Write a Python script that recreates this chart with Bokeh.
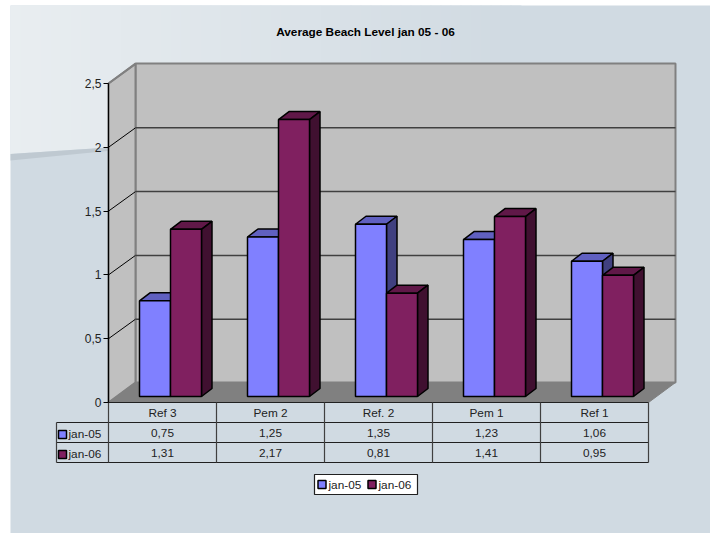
from bokeh.plotting import figure
from bokeh.models import Range1d, FixedTicker
from bokeh.core.properties import value
from bokeh.embed import file_html
from bokeh.resources import INLINE

categories = ["Ref 3", "Pem 2", "Ref. 2", "Pem 1", "Ref 1"]
jan05 = [0.75, 1.25, 1.35, 1.23, 1.06]
jan06 = [1.31, 2.17, 0.81, 1.41, 0.95]
series_names = ["jan-05", "jan-06"]
labels05 = ["0,75", "1,25", "1,35", "1,23", "1,06"]
labels06 = ["1,31", "2,17", "0,81", "1,41", "0,95"]
y_ticks = [0, 0.5, 1, 1.5, 2, 2.5]
y_tick_labels = ["0", "0,5", "1", "1,5", "2", "2,5"]
title = "Average Beach Level jan 05 - 06"

W, H = 710, 533
X0, Y0, CW, UNIT = 108, 402, 108, 127.6
FONT = value("Liberation Sans")

def X(px): return (px - X0) / CW
def Y(py): return (Y0 - py) / UNIT

p = figure(width=W, height=H, output_backend="svg", toolbar_location=None,
           x_axis_type=None, min_border=0,
           x_range=Range1d(X(0), X(W)), y_range=Range1d(Y(H), Y(0)))
p.styles = {"position": "absolute", "left": "0px", "top": "0px"}
p.grid.visible = False
p.outline_line_color = None
p.background_fill_color = "white"
p.border_fill_color = "white"

# ---- slide background
p.patch([X(10), X(W), X(W), X(10)], [Y(5), Y(5), Y(H), Y(H)], fill_color="#d0dae2", line_color=None)
c0, c1 = (233, 238, 241), (208, 218, 226)
xs, ys, cs = [], [], []
for a in range(10, 520, 10):
    b = a + 11
    t = min(1, (a - 10) / 500)
    col = tuple(int(c0[i] + (c1[i] - c0[i]) * t) for i in range(3))
    bot = lambda x: 153.5 - (x - 10) * 6.5 / 98
    xs.append([X(a), X(b), X(b), X(a)])
    ys.append([Y(5), Y(5), Y(bot(b)), Y(bot(a))])
    cs.append("#%02x%02x%02x" % col)
p.patches(xs, ys, fill_color=cs, line_color=None)
p.patch([X(10), X(112), X(112), X(10)], [Y(153.5), Y(146.8), Y(150), Y(160)],
        fill_color="#bfc9d1", line_color=None)

# ---- 3D box: walls and floor
BX, RX = 135, 648
wall = "#c0c0c0"; edge = "#808080"
p.patch([X(BX), X(RX + 27), X(RX + 27), X(BX)], [Y(63), Y(63), Y(382), Y(382)],
        fill_color=wall, line_color=edge, line_width=2)
p.patch([X(108), X(BX), X(BX), X(108)], [Y(83), Y(63), Y(382), Y(402)],
        fill_color=wall, line_color=edge, line_width=2)
p.patch([X(108), X(BX), X(RX + 27), X(RX)], [Y(402), Y(382), Y(382), Y(402)],
        fill_color="#808080", line_color="#808080", line_width=1)
back_dx, back_dy = X(BX), 19.5 / UNIT
for t in y_ticks[1:-1]:
    p.line([0, back_dx], [t, t + back_dy], line_color="#000000", line_width=1)
    p.line([back_dx, X(RX + 27)], [t + back_dy, t + back_dy], line_color="#404040", line_width=1.5)
p.line([0, back_dx], [2.5, 2.5 + back_dy], line_color=edge, line_width=2)

# ---- bars
bar_w = 31 / CW
bar_dx, bar_dy = 10.5 / CW, 8 / UNIT
base = Y(396)
styles = [("#8080ff", "#6060c0", "#404080"), ("#802060", "#601848", "#401030")]
for s, vals in enumerate([jan05, jan06]):
    front, top, side = styles[s]
    x0 = [i + (31 / CW) + s * bar_w for i in range(len(vals))]
    x1 = [x + bar_w for x in x0]
    tv = [base + v for v in vals]
    p.patches([[a, a + bar_dx, b + bar_dx, b] for a, b in zip(x0, x1)],
              [[t, t + bar_dy, t + bar_dy, t] for t in tv],
              fill_color=top, line_color="black", line_width=1.5)
    p.patches([[b, b + bar_dx, b + bar_dx, b] for b in x1],
              [[t, t + bar_dy, base + bar_dy, base] for t in tv],
              fill_color=side, line_color="black", line_width=1.5)
    p.quad(left=x0, right=x1, bottom=[base] * len(vals), top=tv,
           fill_color=front, line_color="black", line_width=1.5)

# ---- data table
rows = [Y(402), Y(422), Y(442), Y(462)]
n = len(categories)
p.line([0, n], [rows[0]] * 2, line_color="#202020", line_width=1.2)
p.line([X(56), n], [rows[1]] * 2, line_color="#202020", line_width=1.2)
p.line([X(56), n], [rows[2]] * 2, line_color="#202020", line_width=1.2)
p.line([X(56), n], [rows[3]] * 2, line_color="#202020", line_width=1.2)
p.line([X(56), X(56)], [rows[1], rows[3]], line_color="#404040", line_width=1.2)
for i in range(n + 1):
    p.line([i, i], [rows[0], rows[3]], line_color="#404040", line_width=1.2)

tx = [i + 0.5 for i in range(n)]
txt = dict(text_font=FONT, text_font_size="11.8px", text_color="#222222",
           text_align="center", text_baseline="middle")
p.text(tx, [Y(412)] * n, text=categories, **txt)
p.text(tx, [Y(432.5)] * n, text=labels05, **txt)
p.text(tx, [Y(452.5)] * n, text=labels06, **txt)

left = dict(txt, text_align="left")
cols = [styles[0][0], styles[1][0]]
p.quad(left=[X(58)] * 2, right=[X(66)] * 2, top=[Y(430), Y(450)], bottom=[Y(438), Y(458)],
       fill_color=cols, line_color="black", line_width=1.5)
p.text([X(68)] * 2, [Y(433), Y(453)], text=series_names, **left)

# ---- legend
p.quad(left=[X(314)], right=[X(417)], top=[Y(474)], bottom=[Y(494)],
       fill_color="white", line_color="#202020", line_width=1.2)
p.quad(left=[X(317.5), X(367.5)], right=[X(325.5), X(375.5)], top=[Y(480)] * 2, bottom=[Y(488)] * 2,
       fill_color=cols, line_color="black", line_width=1.5)
p.text([X(328), X(378)], [Y(484.5)] * 2, text=series_names, **left)

# ---- title
p.text([X(365)], [Y(31.5)], text=[title], text_font=FONT, text_font_size="11.8px",
       text_font_style="bold", text_color="black", text_align="center", text_baseline="middle")

# ---- value axis
ax = p.yaxis[0]
ax.fixed_location = 0
ax.bounds = (0, 2.5)
ax.ticker = FixedTicker(ticks=y_ticks)
ax.major_label_overrides = {t: l for t, l in zip(y_ticks, y_tick_labels)}
ax.major_tick_out = 5
ax.major_tick_in = 0
ax.minor_tick_out = 0
ax.minor_tick_in = 0
ax.major_label_standoff = 2
ax.major_label_text_font = "Liberation Sans"
ax.major_label_text_font_size = "12px"
ax.major_label_text_color = "#222222"
ax.axis_line_color = "black"
ax.axis_line_width = 1.2
ax.major_tick_line_color = "black"

open("out.html", "w").write(file_html(p, INLINE))
